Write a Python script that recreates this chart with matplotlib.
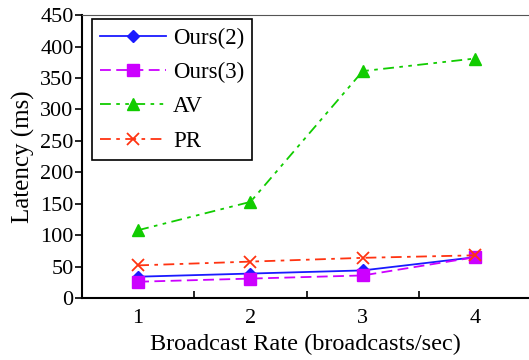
import matplotlib
matplotlib.use("Agg")
import matplotlib.pyplot as plt

plt.rcParams['font.family'] = ['Liberation Serif', 'DejaVu Serif']

rates = [1, 2, 3, 4]
ours2 = [34, 39, 44, 65]
ours3 = [26, 31, 36, 65]
av = [108, 153, 361, 381]
pr = [52, 58, 64, 68]

fig = plt.figure(figsize=(5.29, 3.6), dpi=100)
ax = fig.add_axes([0.155, 0.172, 0.845, 0.786])

ax.plot(rates, ours2, color='#1a1aff', linestyle='-', marker='D', markersize=6.5,
        linewidth=1.3, label='Ours(2)')
ax.plot(rates, ours3, color='#cc00ff', linestyle=(0, (6, 3)), marker='s', markersize=8.5,
        linewidth=1.3, label='Ours(3)')
ax.plot(rates, av, color='#11cc00', linestyle=(0, (6, 3, 2, 3, 2, 3)), marker='^', markersize=9,
        linewidth=1.3, label='AV')
ax.plot(rates, pr, color='#ff3311', linestyle=(0, (6, 3, 2, 3)), marker='x', markersize=8.5,
        markeredgewidth=1.3, linewidth=1.3, label='PR')

ax.set_xlim(0.5, 4.48)
ax.set_ylim(0, 450)
ax.set_yticks(range(0, 451, 50))
ax.set_xticks(rates)
ax.set_xticks([1.5, 2.5, 3.5], minor=True)
ax.tick_params(axis='x', which='major', length=0, labelsize=16, pad=8)
ax.tick_params(axis='x', which='minor', direction='in', length=5, width=1.2)
ax.tick_params(axis='y', direction='out', length=5, width=1.2, labelsize=16, pad=1)

ax.spines['right'].set_visible(False)
ax.spines['top'].set_color('#555555')
ax.spines['left'].set_linewidth(1.5)
ax.spines['bottom'].set_linewidth(1.5)

ax.set_xlabel('Broadcast Rate (broadcasts/sec)', fontsize=17.5, labelpad=4)
ax.set_ylabel('Latency (ms)', fontsize=18, labelpad=4)

leg = ax.legend(loc='upper left', bbox_to_anchor=(0.022, 0.985), borderaxespad=0,
                fontsize=16.5, fancybox=False, framealpha=1, edgecolor='black',
                handlelength=2.9, handletextpad=0.3, labelspacing=0.58,
                borderpad=0.35)
leg.get_frame().set_linewidth(1.2)

fig.savefig('out.png', dpi=100)
